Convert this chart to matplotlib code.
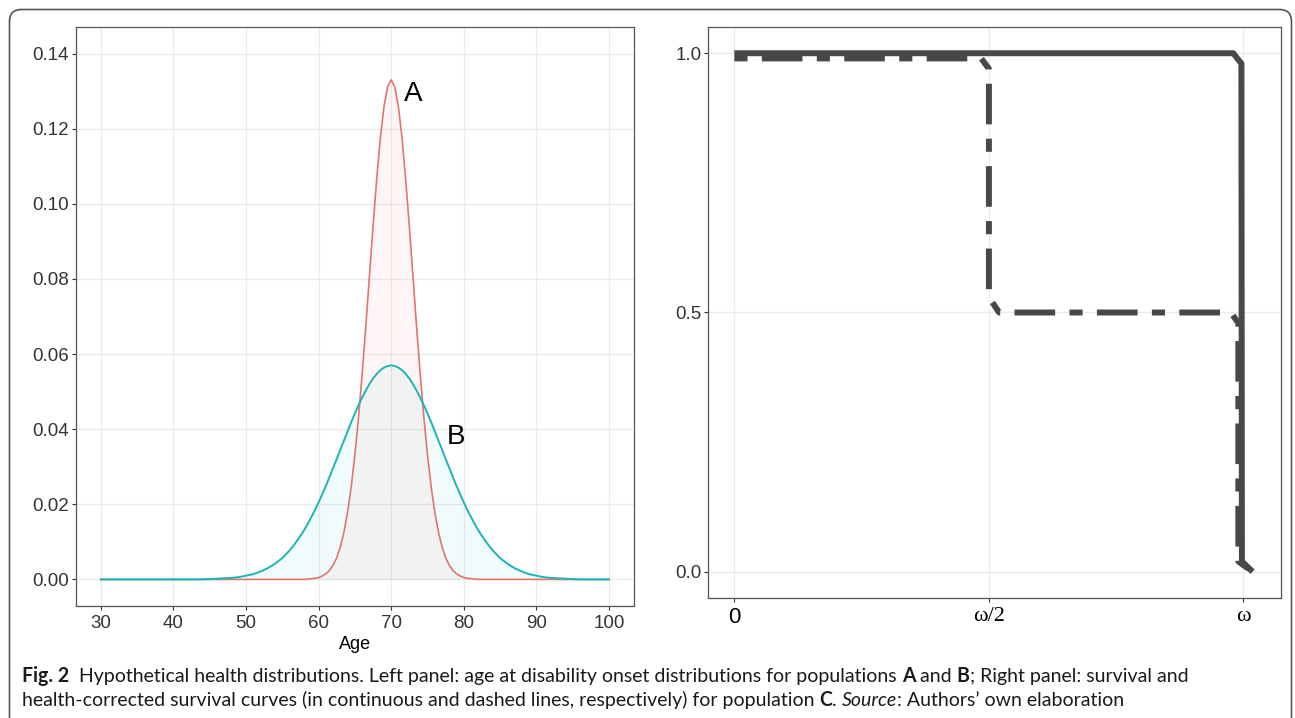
import numpy as np
import matplotlib
matplotlib.use("Agg")
import matplotlib.pyplot as plt
from matplotlib.patches import FancyBboxPatch
from matplotlib.transforms import IdentityTransform

W, H = 1295, 718

# left panel: age at disability onset densities
ages_a = np.concatenate([[30], np.arange(58, 82.5, 0.5), [100]])
density_a = [0.0,
             0.0000, 0.0001, 0.0002, 0.0003, 0.0005, 0.0009, 0.0015, 0.0024,
             0.0038, 0.0058, 0.0087, 0.0127, 0.0180, 0.0248, 0.0332, 0.0432,
             0.0547, 0.0673, 0.0807, 0.0940, 0.1065, 0.1174, 0.1258, 0.1311,
             0.1330,
             0.1311, 0.1258, 0.1174, 0.1065, 0.0940, 0.0807, 0.0673, 0.0547,
             0.0432, 0.0332, 0.0248, 0.0180, 0.0127, 0.0087, 0.0058, 0.0038,
             0.0024, 0.0015, 0.0009, 0.0005, 0.0003, 0.0002, 0.0001, 0.0000,
             0.0]

ages_b = np.concatenate([[30], np.arange(44, 55), np.arange(55, 85.5, 0.5),
                         np.arange(86, 97), [100]])
density_b = [0.0,
             0.0000, 0.0001, 0.0002, 0.0003, 0.0004, 0.0006, 0.0010, 0.0014,
             0.0021, 0.0030, 0.0042,
             0.0057, 0.0067, 0.0077, 0.0089, 0.0102, 0.0116, 0.0131, 0.0148,
             0.0166, 0.0185, 0.0205, 0.0227, 0.0249, 0.0273, 0.0297, 0.0321,
             0.0346, 0.0370, 0.0395, 0.0419, 0.0442, 0.0464, 0.0484, 0.0503,
             0.0520, 0.0535, 0.0547, 0.0557, 0.0564, 0.0568, 0.0570,
             0.0568, 0.0564, 0.0557, 0.0547, 0.0535, 0.0520, 0.0503, 0.0484,
             0.0464, 0.0442, 0.0419, 0.0395, 0.0370, 0.0346, 0.0321, 0.0297,
             0.0273, 0.0249, 0.0227, 0.0205, 0.0185, 0.0166, 0.0148, 0.0131,
             0.0116, 0.0102, 0.0089, 0.0077, 0.0067, 0.0057,
             0.0042, 0.0030, 0.0021, 0.0014, 0.0010, 0.0006, 0.0004, 0.0003,
             0.0002, 0.0001, 0.0000,
             0.0]
left_yticks = [0.00, 0.02, 0.04, 0.06, 0.08, 0.10, 0.12, 0.14]
left_xticks = [30, 40, 50, 60, 70, 80, 90, 100]

# right panel: survival (solid) and health-corrected survival (dashed), x in units of omega
surv_x = [0.0, 0.98, 0.996, 0.997, 1.018]
surv_y = [1.0, 1.0, 0.98, 0.02, 0.0]
hc_x = [0.0, 0.485, 0.5, 0.5, 0.52, 0.975, 0.99, 0.99, 1.018]
hc_y = [0.99, 0.99, 0.97, 0.53, 0.5, 0.5, 0.48, 0.02, 0.0]
right_xticks = [0.0, 0.5, 1.0]
right_xlabels = ["0", "ω/2", "ω"]
right_yticks = [0.0, 0.5, 1.0]

RED = "#E0766C"
TEAL = "#1DB4B6"
INK = "#333333"
GRID = "#EBEBEB"

plt.rcParams["font.family"] = ["Liberation Sans", "DejaVu Sans"]

fig = plt.figure(figsize=(W / 100, H / 100), dpi=100)
fig.patch.set_facecolor("white")


def style_axes(ax):
    for sp in ax.spines.values():
        sp.set_color("#555555")
        sp.set_linewidth(0.9)
    ax.grid(True, color=GRID, linewidth=1.0)
    ax.set_axisbelow(True)
    ax.tick_params(length=3, width=0.8, color=INK, labelcolor=INK,
                   labelsize=13.5, pad=2)


# ---- left panel
ax1 = fig.add_axes([75.5 / W, 1 - 605.7 / H, (634.3 - 75.5) / W, (605.7 - 27.3) / H])
style_axes(ax1)
ax1.fill_between(ages_b, density_b, color="#00BFC4", alpha=0.06, linewidth=0)
ax1.fill_between(ages_a, density_a, color="#F8766D", alpha=0.06, linewidth=0)
ax1.plot(ages_a, density_a, color=RED, linewidth=1.2)
ax1.plot(ages_b, density_b, color=TEAL, linewidth=1.4)
ax1.set_xlim(26.5, 103.5)
ax1.set_ylim(-0.007, 0.147)
ax1.set_xticks(left_xticks)
ax1.set_yticks(left_yticks)
ax1.set_yticklabels([f"{v:.2f}" for v in left_yticks])
ax1.tick_params(axis="x", pad=3.5)
ax1.set_xlabel("Age", fontsize=13, color="black", labelpad=3)
ax1.text(71.7, 0.1292, "A", fontsize=20, va="center", ha="left")
ax1.text(77.7, 0.0378, "B", fontsize=20, va="center", ha="left")

# ---- right panel
ax2 = fig.add_axes([708.4 / W, 1 - 597.7 / H, (1280.6 - 708.4) / W, (597.7 - 27.3) / H])
style_axes(ax2)
ax2.plot(surv_x, surv_y, color="#484848", linewidth=4.3,
         solid_joinstyle="round", solid_capstyle="butt")
ax2.plot(hc_x, hc_y, color="#484848", linewidth=4.3,
         linestyle=(0, (2.2, 2.4, 6.8, 2.4)),
         dash_joinstyle="round", dash_capstyle="butt")
ax2.set_xlim(-0.051, 1.073)
ax2.set_ylim(-0.05, 1.05)
ax2.set_xticks(right_xticks)
ax2.set_xticklabels(right_xlabels, fontsize=16, color="black")
for lab in ax2.get_xticklabels()[1:]:
    lab.set_family(["Liberation Serif", "DejaVu Serif"])
ax2.set_yticks(right_yticks)
ax2.set_yticklabels([f"{v:.1f}" for v in right_yticks])
ax2.tick_params(axis="x", pad=4)

# ---- outer rounded frame (open at the bottom)
frame = FancyBboxPatch((9.5, -30), 1282, 718 - 9.5 + 30,
                       boxstyle="round,pad=0,rounding_size=12",
                       transform=IdentityTransform(), facecolor="none",
                       edgecolor="#555555", linewidth=1.2, zorder=0)
fig.patches.append(frame)

# ---- caption with mixed styles
renderer = fig.canvas.get_renderer()
cap_font = ["Lato", "DejaVu Sans"]


def run_width(s, **kw):
    t = fig.text(0, 0, "|" + s + "|", **kw)
    w = t.get_window_extent(renderer).width
    t.remove()
    t = fig.text(0, 0, "||", **kw)
    w -= t.get_window_extent(renderer).width
    t.remove()
    return w


def run_kw(style, size):
    kw = {"family": cap_font, "fontsize": size, "color": "#1a1a1a"}
    if style == "b":
        kw["fontweight"] = "bold"
    elif style == "i":
        kw["fontstyle"] = "italic"
    return kw


line1 = [("Fig. 2", "b"),
         ("  Hypothetical health distributions. Left panel: age at disability onset "
          "distributions for populations ", "n"),
         ("A", "b"), (" and ", "n"), ("B", "b"), ("; Right panel: survival and", "n")]
line2 = [("health-corrected survival curves (in continuous and dashed lines, "
          "respectively) for population ", "n"),
         ("C", "b"), (". ", "n"), ("Source", "i"), (": Authors’ own elaboration", "n")]

base = 12.0
w1 = sum(run_width(s, **run_kw(st, base)) for s, st in line1)
size = base * (1187 - 22) / w1


def draw_line(runs, x0, baseline):
    x = x0
    for s, st in runs:
        kw = run_kw(st, size)
        fig.text(x / W, baseline / H, s, va="baseline", ha="left", **kw)
        x += run_width(s, **kw)


draw_line(line1, 22, H - 682)
draw_line(line2, 22, H - 706)

fig.savefig("out.png", dpi=100)
